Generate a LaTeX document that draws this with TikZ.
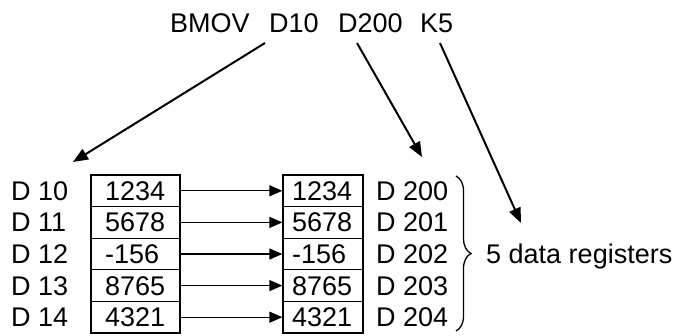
\documentclass[tikz,border=0pt]{standalone}
\usepackage{fontspec}
\setmainfont{Liberation Sans}
\usetikzlibrary{arrows.meta,decorations.pathreplacing}
\begin{document}
\begin{tikzpicture}[x=1pt,y=-1pt,
  font=\fontsize{27}{32}\selectfont,
  cellL/.style={draw, line width=1.3pt, minimum width=89pt, minimum height=31.6pt, inner sep=0pt},
  cellR/.style={draw, line width=1.3pt, minimum width=80pt, minimum height=31.6pt, inner sep=0pt},
  txt/.style={anchor=base west, inner sep=0pt},
  moveline/.style={line width=1.4pt, -{Triangle[length=13pt,width=11pt]}},
  pointer/.style={line width=2pt, -{Triangle[length=15pt,width=12pt]}},
  bracestyle/.style={line width=1.3pt, decorate, decoration={brace, amplitude=15pt}}]
\useasboundingbox (0,0) rectangle (676,336);

% title
\node[txt] (title) at (170,32.5) {BMOV\hspace{0.72em}D10\hspace{0.72em}D200\hspace{0.65em}K5};

% cells
\foreach \i/\a/\b/\v in {1/D 10/D 200/1234, 2/D 11/D 201/5678, 3/D 12/D 202/-156, 4/D 13/D 203/8765, 5/D 14/D 204/4321}{
  \pgfmathsetmacro{\yc}{175+31.6*(\i-0.5)}
  \pgfmathsetmacro{\yb}{\yc+9.6}
  \node[cellL] (L\i) at (135.5,\yc) {};
  \node[cellR] (R\i) at (323,\yc) {};
  \node[txt] (lv\i) at (105,\yb) {\v};
  \node[txt] (rv\i) at (292,\yb) {\v};
  \node[txt] (ln\i) at (11,\yb) {\a};
  \node[txt] (rn\i) at (376,\yb) {\b};
  \draw[moveline] (L\i.east) -- (R\i.west);
}

% brace and label
\coordinate (bt) at (456,176);
\coordinate (bb) at (456,331);
\draw[bracestyle] (bt) -- (bb);
\node[txt] (regs) at (486,263.6) {5 data registers};

% pointer arrows
\coordinate (a1s) at (265,43);
\coordinate (a1e) at (73,162);
\coordinate (a2s) at (357,43);
\coordinate (a2e) at (422,157);
\coordinate (a3s) at (440,43);
\coordinate (a3e) at (521,223);
\draw[pointer] (a1s) -- (a1e);
\draw[pointer] (a2s) -- (a2e);
\draw[pointer] (a3s) -- (a3e);
\end{tikzpicture}
\end{document}
